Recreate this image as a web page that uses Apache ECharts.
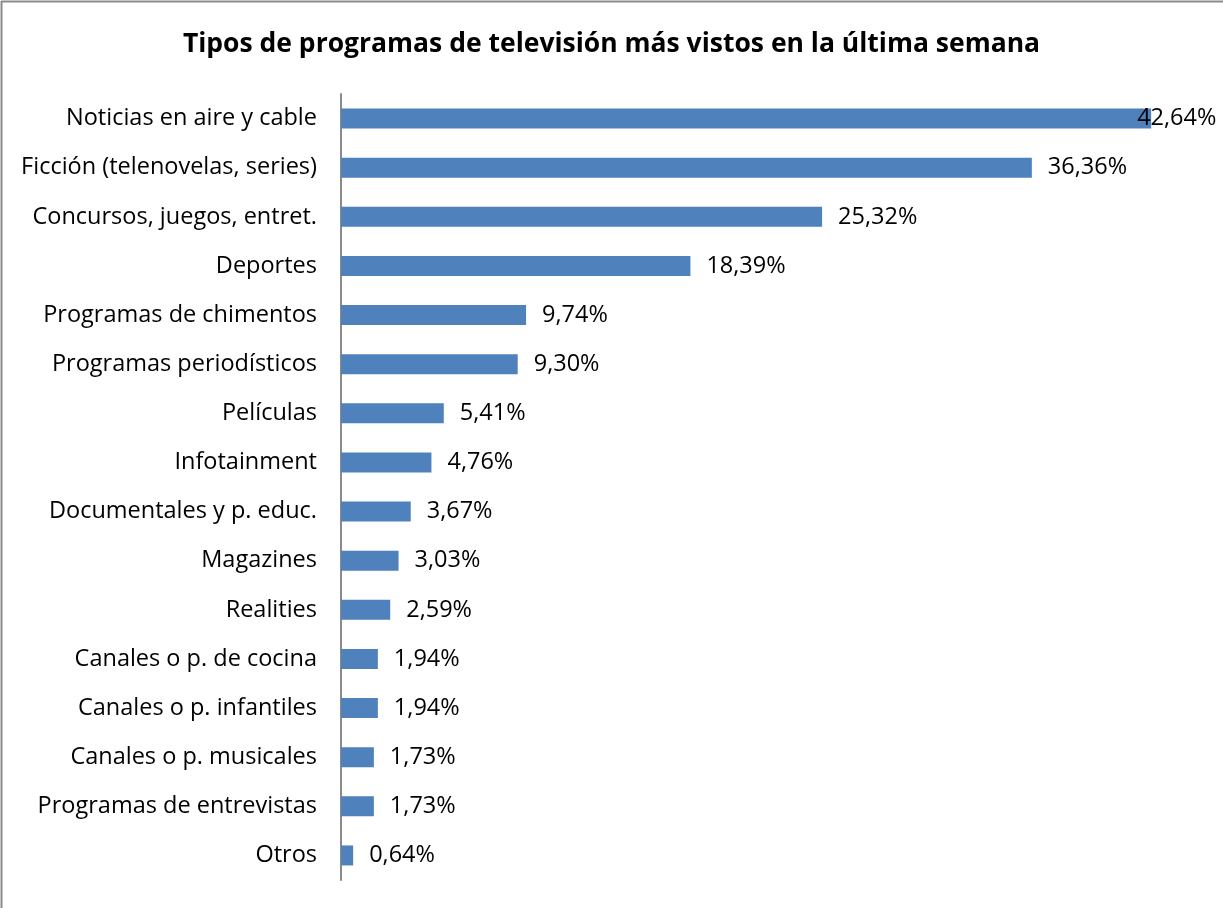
<!DOCTYPE html>
<html>
<head>
<meta charset="utf-8">
<title>Tipos de programas de televisión más vistos en la última semana</title>
<script src="https://cdn.jsdelivr.net/npm/echarts@6/dist/echarts.min.js"></script>
<style>
  html, body { margin: 0; padding: 0; background: #ffffff; }
  #chart { width: 1223px; height: 908px; }
</style>
</head>
<body>
<div id="chart"></div>
<script>
// Categories, top to bottom
const categories = [
  'Noticias en aire y cable',
  'Ficción (telenovelas, series)',
  'Concursos, juegos, entret.',
  'Deportes',
  'Programas de chimentos',
  'Programas periodísticos',
  'Películas',
  'Infotainment',
  'Documentales y p. educ.',
  'Magazines',
  'Realities',
  'Canales o p. de cocina',
  'Canales o p. infantiles',
  'Canales o p. musicales',
  'Programas de entrevistas',
  'Otros'
];

// Share of respondents (%)
const values = [42.64, 36.36, 25.32, 18.39, 9.74, 9.30, 5.41, 4.76, 3.67, 3.03, 2.59, 1.94, 1.94, 1.73, 1.73, 0.64];

const FONT = '"Open Sans", sans-serif';

const chart = echarts.init(document.getElementById('chart'), null, { renderer: 'canvas' });

// Longest bar: its label is pulled back so it stays inside the chart frame
const seriesData = values.map((v, i) => {
  const item = { value: v };
  if (i === 0) item.label = { offset: [-30, 0] };
  return item;
});

chart.setOption({
  backgroundColor: '#ffffff',
  animation: false,
  title: {
    text: 'Tipos de programas de televisión más vistos en la última semana',
    left: 'center',
    top: 26,
    textStyle: { fontFamily: FONT, fontWeight: 'bold', fontSize: 26.5, color: '#000000' }
  },
  graphic: [
    { type: 'line', shape: { x1: 1.5, y1: 1, x2: 1.5, y2: 908 }, style: { stroke: '#8a8a8a', lineWidth: 2 } },
    { type: 'line', shape: { x1: 1, y1: 1.5, x2: 1223, y2: 1.5 }, style: { stroke: '#8a8a8a', lineWidth: 2 } }
  ],
  grid: { left: 341, right: 27, top: 94, bottom: 28, containLabel: false },
  xAxis: {
    type: 'value',
    min: 0,
    max: 45,
    show: false
  },
  yAxis: {
    type: 'category',
    data: categories,
    inverse: true,
    axisLine: { show: true, lineStyle: { color: '#8a8a8a', width: 2 } },
    axisTick: { show: false },
    axisLabel: { fontFamily: FONT, fontSize: 23.5, color: '#000000', margin: 24 },
    splitLine: { show: false }
  },
  series: [{
    type: 'bar',
    data: seriesData,
    barWidth: 20,
    itemStyle: { color: '#4f81bd' },
    label: {
      show: true,
      position: 'right',
      distance: 16,
      fontFamily: FONT,
      fontSize: 23.5,
      color: '#000000',
      formatter: p => p.value.toFixed(2).replace('.', ',') + '%'
    }
  }]
});
</script>
</body>
</html>
